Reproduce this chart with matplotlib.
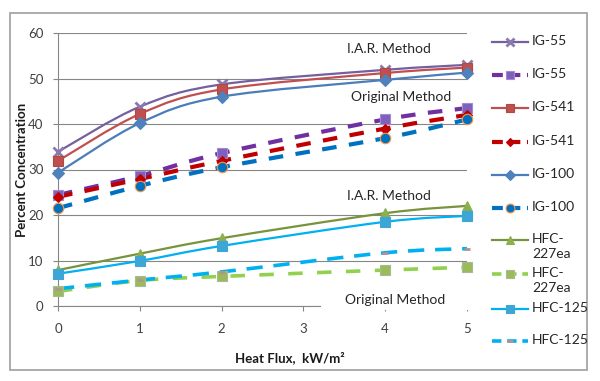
import matplotlib
matplotlib.use("Agg")
import matplotlib.pyplot as plt
from matplotlib.path import Path
from matplotlib.patches import PathPatch, Rectangle
from matplotlib.lines import Line2D

plt.rcParams['font.family'] = ['Lato', 'DejaVu Sans']

# data
heat_flux = [0, 1, 2, 4, 5]

ig55_iar = [33.9, 43.8, 48.7, 51.9, 53.0]
ig55_orig = [24.4, 28.6, 33.6, 41.0, 43.5]
ig541_iar = [31.9, 42.2, 47.6, 51.2, 52.4]
ig541_orig = [24.0, 27.9, 31.9, 39.0, 42.0]
ig100_iar = [29.3, 40.2, 46.0, 49.7, 51.3]
ig100_orig = [21.5, 26.4, 30.5, 36.9, 41.0]
hfc227_iar = [7.9, 11.5, 14.9, 20.4, 22.0]
hfc227_orig = [3.2, 5.6, 6.5, 7.9, 8.5]
hfc125_iar = [7.1, 9.9, 13.2, 18.5, 19.8]
hfc125_orig = [3.8, 5.7, 7.5, 11.7, 12.6]

legend_labels = ['IG-55', 'IG-55', 'IG-541', 'IG-541', 'IG-100', 'IG-100',
                 'HFC-\n227ea', 'HFC-\n227ea', 'HFC-125', 'HFC-125']

# style per series: (values, line colour, lw, dashes, marker, marker face, marker edge, marker size)
series = [
    (ig55_iar, '#7460A0', 1.6, None, 'x', '#8A78AE', '#8A78AE', 7),
    (ig55_orig, '#7030A0', 3.0, (3.5, 3.0), 's', '#7F5FBF', '#A08CCB', 7),
    (ig541_iar, '#C0504D', 1.6, None, 's', '#C0504D', '#B04844', 7.5),
    (ig541_orig, '#C00000', 3.0, (3.5, 3.0), 'D', '#C00000', '#C00000', 5),
    (ig100_iar, '#4A7DBA', 1.6, None, 'D', '#4F81BD', '#4F81BD', 6),
    (ig100_orig, '#0070C0', 3.0, (3.5, 3.0), 'o', '#0070C0', '#F79646', 7.5),
    (hfc227_iar, '#77933C', 1.6, None, '^', '#8CAF4F', '#8CAF4F', 7.5),
    (hfc227_orig, '#92D050', 2.6, (4.0, 4.0), 's', '#9BBB59', '#A8B89A', 7.5),
    (hfc125_iar, '#00B0F0', 1.6, None, 's', '#3CA6D6', '#3CA6D6', 7),
    (hfc125_orig, '#00B0F0', 2.6, (4.5, 3.0), '_', '#B09494', '#B09494', 5),
]


def smooth_path(xs, ys):
    # excel-style smoothed line: cubic bezier through the points
    pts = list(zip(xs, ys))
    n = len(pts)
    verts = [pts[0]]
    codes = [Path.MOVETO]
    for i in range(n - 1):
        p0 = pts[i - 1] if i > 0 else pts[i]
        p1 = pts[i]
        p2 = pts[i + 1]
        p3 = pts[i + 2] if i + 2 < n else pts[i + 1]
        c1 = (p1[0] + (p2[0] - p0[0]) / 6, p1[1] + (p2[1] - p0[1]) / 6)
        c2 = (p2[0] - (p3[0] - p1[0]) / 6, p2[1] - (p3[1] - p1[1]) / 6)
        verts += [c1, c2, p2]
        codes += [Path.CURVE4] * 3
    return Path(verts, codes)


fig = plt.figure(figsize=(6, 3.81), dpi=100)
ax = fig.add_axes([58 / 600, 1 - 306 / 381, 409 / 600, 273 / 381])

grid_c = '#868686'
text_c = '#404040'

for vals, lc, lw, dashes, mk, mf, me, ms in series:
    ls = '-' if dashes is None else (0, dashes)
    patch = PathPatch(smooth_path(heat_flux, vals), facecolor='none', edgecolor=lc,
                      lw=lw, linestyle=ls, capstyle='butt', zorder=3, clip_on=False)
    ax.add_patch(patch)
    mew = 2.0 if mk in ('x', '_') else 0.8
    ax.plot(heat_flux, vals, linestyle='none', marker=mk, markersize=ms,
            markerfacecolor=mf, markeredgecolor=me, markeredgewidth=mew,
            zorder=4, clip_on=False)

ax.set_xlim(0, 5)
ax.set_ylim(0, 60)
ax.set_xticks(range(0, 6))
ax.set_yticks(range(0, 61, 10))
ax.yaxis.grid(True, color=grid_c, lw=0.8)
ax.set_axisbelow(True)
for s in ['top', 'right']:
    ax.spines[s].set_visible(False)
for s in ['left', 'bottom']:
    ax.spines[s].set_color(grid_c)
    ax.spines[s].set_linewidth(0.8)
ax.tick_params(axis='both', colors=grid_c, labelcolor=text_c, labelsize=9.5,
               length=3.5, width=0.8, direction='out')
ax.tick_params(axis='x', pad=9)
ax.tick_params(axis='y', pad=7)

# method annotations
ax.text(4.05, 56.4, 'I.A.R. Method', ha='center', va='center', fontsize=10, color='#262626', zorder=5)
ax.text(4.19, 45.9, 'Original Method', ha='center', va='center', fontsize=10, color='#262626', zorder=5)
ax.text(4.05, 24.2, 'I.A.R. Method', ha='center', va='center', fontsize=10, color='#262626', zorder=5)
ax.add_patch(Rectangle((3.22, -0.9), 1.85, 3.6, facecolor='white', edgecolor='none',
                       zorder=4.5, clip_on=False))
ax.text(4.12, 1.3, 'Original Method', ha='center', va='center', fontsize=10, color='#262626', zorder=5)

# axis titles
fig.text(22 / 600, 1 - 170 / 381, 'Percent Concentration', rotation=90, ha='center', va='center',
         fontsize=9.5, fontweight='bold', color='#1a1a1a')
fig.text(290 / 600, 1 - 358 / 381, 'Heat Flux,  kW/m\u00b2', ha='center', va='center',
         fontsize=9.5, fontweight='bold', color='#1a1a1a')

# legend drawn by hand so the rows sit like the original
row_y = [42, 75, 108, 142, 175, 208, 240, 274, 309, 341]
x0, x1, xm = 492 / 600, 528 / 600, 510 / 600
for (vals, lc, lw, dashes, mk, mf, me, ms), lab, py in zip(series, legend_labels, row_y):
    yy = 1 - py / 381
    h = Line2D([x0, xm, x1], [yy, yy, yy], transform=fig.transFigure, color=lc, lw=lw,
               marker=mk, markevery=[1], markersize=ms * 0.85, markerfacecolor=mf,
               markeredgecolor=me, markeredgewidth=2.0 if mk in ('x', '_') else 0.8)
    if dashes is not None:
        h.set_dashes((2.6, 1.6))
    fig.add_artist(h)
    fig.text(532 / 600, 1 - (py - 7) / 381, lab, ha='left', va='top', fontsize=10,
             color='#262626', linespacing=1.3)

# outer chart border
fig.add_artist(Rectangle((10 / 600, 1 - 370 / 381), 577 / 600, 357 / 381,
                         transform=fig.transFigure, fill=False, edgecolor='#A6A6A6', lw=1.3))

fig.savefig('out.png', dpi=100)
